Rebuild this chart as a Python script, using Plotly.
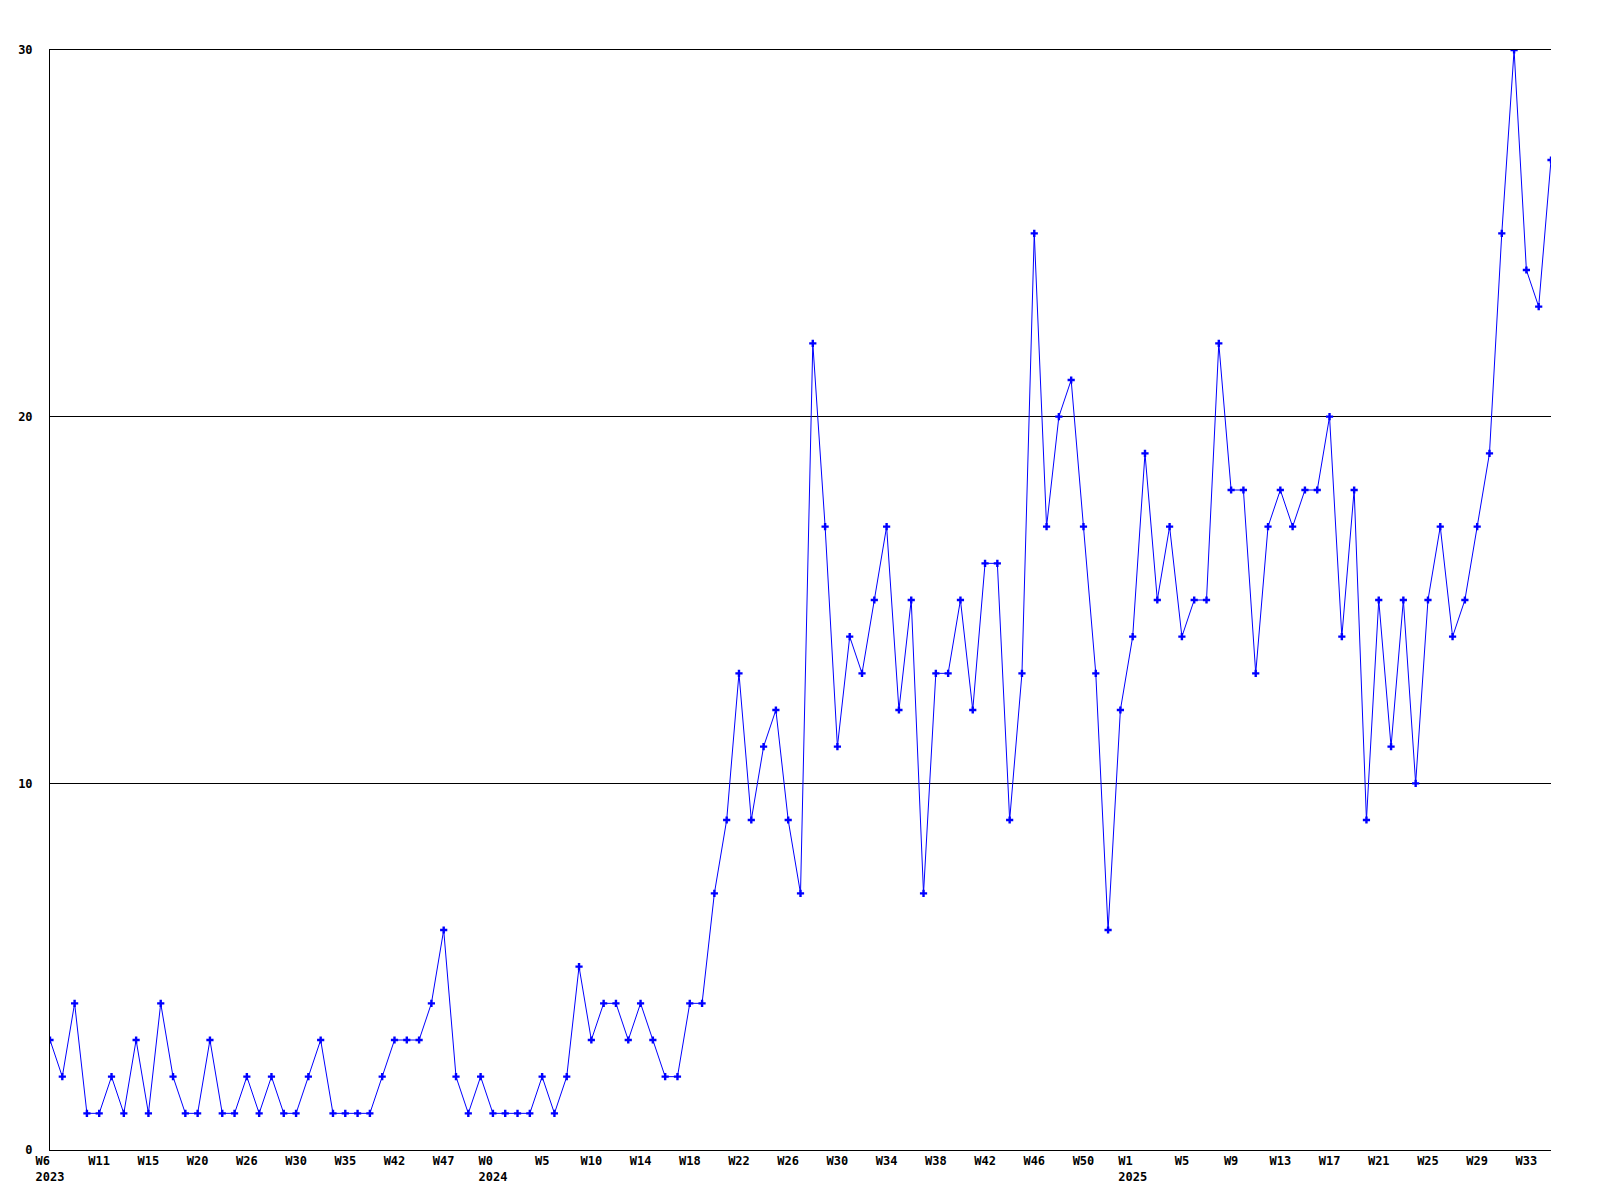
import plotly.graph_objects as go

values = [
    3, 2, 4, 1, 1, 2, 1, 3, 1, 4,
    2, 1, 1, 3, 1, 1, 2, 1, 2, 1,
    1, 2, 3, 1, 1, 1, 1, 2, 3, 3,
    3, 4, 6, 2, 1, 2, 1, 1, 1, 1,
    2, 1, 2, 5, 3, 4, 4, 3, 4, 3,
    2, 2, 4, 4, 7, 9, 13, 9, 11, 12,
    9, 7, 22, 17, 11, 14, 13, 15, 17, 12,
    15, 7, 13, 13, 15, 12, 16, 16, 9, 13,
    25, 17, 20, 21, 17, 13, 6, 12, 14, 19,
    15, 17, 14, 15, 15, 22, 18, 18, 13, 17,
    18, 17, 18, 18, 20, 14, 18, 9, 15, 11,
    15, 10, 15, 17, 14, 15, 17, 19, 25, 30,
    24, 23, 27,
]

# year labels sit left-aligned under the week label (padded with nbsp)
tick_labels = [
    "W6&nbsp;&nbsp;<br>2023", "W11", "W15", "W20", "W26", "W30", "W35", "W42", "W47",
    "W0&nbsp;&nbsp;<br>2024", "W5", "W10", "W14", "W18", "W22", "W26", "W30", "W34",
    "W38", "W42", "W46", "W50",
    "W1&nbsp;&nbsp;<br>2025", "W5", "W9", "W13", "W17", "W21", "W25", "W29", "W33",
]
tick_step = 4
y_ticks = [0, 10, 20, 30]

x_idx = list(range(len(values)))
tick_positions = x_idx[::tick_step][:len(tick_labels)]

font = dict(family="DejaVu Sans Mono, Liberation Mono, monospace", size=12,
            color="black", weight="bold")

fig = go.Figure()
fig.add_trace(go.Scatter(
    x=x_idx, y=values, mode="lines+markers",
    line=dict(color="#0000ff", width=1),
    marker=dict(symbol="cross", size=6, color="#0000ff", line=dict(width=0)),
    showlegend=False,
))

fig.update_layout(
    width=1600, height=1200,
    margin=dict(l=42, r=57, t=42, b=58, autoexpand=False),
    paper_bgcolor="white", plot_bgcolor="white",
    font=font,
)
fig.update_xaxes(
    range=[0, len(values) - 1],
    tickmode="array", tickvals=tick_positions, ticktext=tick_labels,
    showgrid=False, zeroline=False, automargin=False,
    showline=True, mirror=True, linecolor="black", linewidth=1,
    ticks="", tickfont=font, tickangle=0,
)
fig.update_yaxes(
    range=[y_ticks[0], y_ticks[-1]],
    tickmode="array", tickvals=y_ticks, ticktext=[str(v) for v in y_ticks],
    showgrid=True, gridcolor="black", gridwidth=1,
    zeroline=False, automargin=False,
    showline=True, linecolor="black", linewidth=1,
    ticks="outside", ticklen=0, ticklabelstandoff=14, tickfont=font,
)

fig.write_html("out.html")
